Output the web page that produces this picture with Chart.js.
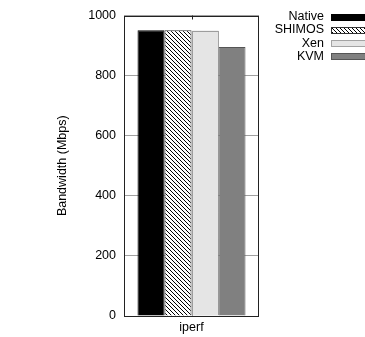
<!DOCTYPE html>
<html>
<head>
<meta charset="utf-8">
<script src="https://cdn.jsdelivr.net/npm/chart.js@4/dist/chart.umd.min.js"></script>
<style>
  html, body { margin: 0; padding: 0; background: #fff; }
  #wrap { width: 365px; height: 337px; }
</style>
</head>
<body>
<div id="wrap"><canvas id="chart"></canvas></div>
<script>
const categories = ['iperf'];
const seriesNames = ['Native', 'SHIMOS', 'Xen', 'KVM'];
const nativeValues = [951];
const shimosValues = [951];
const xenValues = [950];
const kvmValues = [895];
const yTicks = [0, 200, 400, 600, 800, 1000];

const FONT = '"Liberation Sans", Arial, Helvetica, sans-serif';

// diagonal hatch fill used by the SHIMOS bar
function hatchPattern() {
  const c = document.createElement('canvas');
  c.width = 4; c.height = 4;
  const g = c.getContext('2d');
  g.fillStyle = '#fff';
  g.fillRect(0, 0, 4, 4);
  g.strokeStyle = '#000';
  g.lineWidth = 1;
  g.beginPath();
  g.moveTo(0, 0); g.lineTo(4, 4);
  g.moveTo(-1, 3); g.lineTo(1, 5);
  g.moveTo(3, -1); g.lineTo(5, 1);
  g.stroke();
  return g.createPattern(c, 'repeat');
}
const hatch = hatchPattern();

const styles = [
  { fill: '#000000', border: '#000000', dash: null },
  { fill: hatch, border: '#333333', dash: null },
  { fill: '#e5e5e5', border: '#555555', dash: [1, 1] },
  { fill: '#808080', border: '#555555', dash: null },
];

const values = [nativeValues, shimosValues, xenValues, kvmValues];

const datasets = seriesNames.map((name, i) => ({
  label: name,
  data: values[i],
  backgroundColor: styles[i].fill,
  borderColor: styles[i].border,
  borderWidth: styles[i].dash ? 0 : 1,
  borderSkipped: 'start',
}));

// frame, mirrored x tick, dotted outline for Xen, and the key on the right
const gnuplotLook = {
  id: 'gnuplotLook',
  afterDatasetsDraw(chart) {
    const { ctx, chartArea: a } = chart;
    ctx.save();

    // dotted outline for bars that have a dash style
    chart.data.datasets.forEach((ds, i) => {
      if (!styles[i].dash) return;
      chart.getDatasetMeta(i).data.forEach(bar => {
        const p = bar.getProps(['x', 'y', 'width', 'base'], true);
        ctx.strokeStyle = styles[i].border;
        ctx.lineWidth = 1;
        ctx.setLineDash(styles[i].dash);
        ctx.beginPath();
        const l = Math.round(p.x - p.width / 2) + 0.5;
        const r = Math.round(p.x + p.width / 2) - 0.5;
        const t = Math.round(p.y) + 0.5;
        ctx.moveTo(l, p.base);
        ctx.lineTo(l, t);
        ctx.lineTo(r, t);
        ctx.lineTo(r, p.base);
        ctx.stroke();
      });
    });
    ctx.setLineDash([]);

    // plot frame
    ctx.strokeStyle = '#222';
    ctx.lineWidth = 1;
    ctx.strokeRect(Math.round(a.left) + 0.5, Math.round(a.top) + 0.5,
      Math.round(a.right - a.left) - 1, Math.round(a.bottom - a.top) - 1);

    // small x tick on the top edge
    const xs = chart.scales.x;
    categories.forEach((c, i) => {
      const x = Math.round(xs.getPixelForValue(i)) + 0.5;
      ctx.beginPath();
      ctx.moveTo(x, a.top);
      ctx.lineTo(x, a.top + 4);
      ctx.stroke();
    });
    ctx.restore();
  },
  afterDraw(chart) {
    const { ctx } = chart;
    ctx.save();
    ctx.font = '12.5px ' + FONT;
    ctx.textAlign = 'right';
    ctx.textBaseline = 'middle';
    chart.data.datasets.forEach((ds, i) => {
      const y = 16.5 + i * 13.3;
      ctx.fillStyle = '#000';
      ctx.fillText(ds.label, 324, y);
      const bx = 331.5, by = Math.round(y - 3) + 0.5, bw = 40, bh = 6;
      ctx.fillStyle = styles[i].fill;
      ctx.fillRect(bx, by, bw, bh);
      ctx.strokeStyle = styles[i].border;
      ctx.lineWidth = 1;
      ctx.setLineDash(styles[i].dash || []);
      ctx.strokeRect(bx, by, bw, bh);
    });
    ctx.restore();
  },
};

new Chart(document.getElementById('chart'), {
  type: 'bar',
  data: { labels: categories, datasets },
  options: {
    responsive: true,
    maintainAspectRatio: false,
    animation: false,
    layout: { padding: { top: 11, right: 106, left: 0, bottom: 0 } },
    datasets: { bar: { categoryPercentage: 0.8, barPercentage: 1.0 } },
    plugins: {
      legend: { display: false },
      tooltip: { enabled: false },
    },
    scales: {
      x: {
        grid: { display: false, drawTicks: false },
        border: { display: false },
        ticks: { color: '#000', padding: 4, font: { family: FONT, size: 12.5 } },
        afterFit: s => { s.height = 21; },
      },
      y: {
        min: 0,
        max: 1000,
        afterBuildTicks: s => { s.ticks = yTicks.map(v => ({ value: v })); },
        grid: { color: '#a0a0a0', drawTicks: false },
        border: { display: false },
        ticks: {
          color: '#000',
          padding: 8,
          font: { family: FONT, size: 12.5 },
          callback: v => String(v),
        },
        title: {
          display: true,
          text: 'Bandwidth (Mbps)',
          color: '#000',
          font: { family: FONT, size: 12.5 },
          padding: { top: 55.5, bottom: 0 },
        },
        afterFit: s => { s.width = 124; },
      },
    },
  },
  plugins: [gnuplotLook],
});
</script>
</body>
</html>
